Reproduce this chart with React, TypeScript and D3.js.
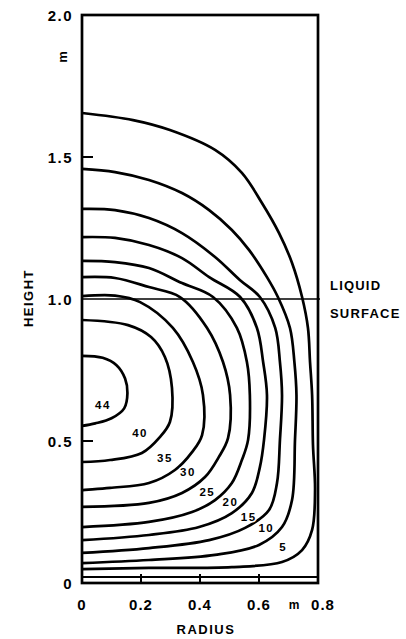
import React from 'react';
import * as d3 from 'd3';

// contour levels and their traced [radius, height] points (m)
const levels = [44, 40, 35, 30, 25, 20, 15, 10, 5];

const contours: [number, number][][] = [
  [[0, 0.80], [0.07, 0.793], [0.117, 0.767], [0.146, 0.72], [0.154, 0.669], [0.143, 0.615], [0.1, 0.58], [0.045, 0.562], [0, 0.553]],
  [[0, 0.926], [0.156, 0.908], [0.234, 0.866], [0.281, 0.796], [0.305, 0.687], [0.298, 0.567], [0.264, 0.514], [0.203, 0.458], [0.095, 0.433], [0, 0.426]],
  [[0, 1.01], [0.112, 1.012], [0.197, 0.989], [0.308, 0.898], [0.376, 0.778], [0.41, 0.662], [0.407, 0.521], [0.373, 0.461], [0.315, 0.398], [0.227, 0.352], [0.095, 0.335], [0, 0.327]],
  [[0, 1.077], [0.112, 1.074], [0.227, 1.042], [0.332, 1.007], [0.424, 0.898], [0.478, 0.778], [0.502, 0.662], [0.495, 0.51], [0.464, 0.444], [0.417, 0.373], [0.339, 0.317], [0.227, 0.282], [0, 0.268]],
  [[0, 1.134], [0.112, 1.130], [0.227, 1.109], [0.339, 1.056], [0.444, 1.007], [0.525, 0.898], [0.559, 0.778], [0.569, 0.662], [0.563, 0.504], [0.542, 0.433], [0.508, 0.352], [0.451, 0.292], [0.373, 0.25], [0.227, 0.215], [0, 0.197]],
  [[0, 1.218], [0.112, 1.215], [0.227, 1.190], [0.339, 1.144], [0.431, 1.077], [0.536, 1.007], [0.593, 0.898], [0.614, 0.778], [0.627, 0.662], [0.617, 0.504], [0.603, 0.408], [0.576, 0.317], [0.508, 0.246], [0.397, 0.197], [0.227, 0.169], [0, 0.151]],
  [[0, 1.317], [0.112, 1.313], [0.227, 1.285], [0.339, 1.232], [0.451, 1.148], [0.535, 1.067], [0.603, 1.007], [0.655, 0.898], [0.671, 0.778], [0.678, 0.662], [0.671, 0.504], [0.661, 0.352], [0.634, 0.257], [0.553, 0.194], [0.431, 0.151], [0.227, 0.123], [0, 0.106]],
  [[0, 1.458], [0.112, 1.447], [0.227, 1.419], [0.339, 1.373], [0.431, 1.313], [0.508, 1.243], [0.566, 1.173], [0.627, 1.077], [0.664, 1.007], [0.705, 0.898], [0.72, 0.778], [0.727, 0.662], [0.722, 0.504], [0.712, 0.292], [0.678, 0.197], [0.6, 0.134], [0.451, 0.099], [0.227, 0.081], [0, 0.070]],
  [[0, 1.655], [0.173, 1.630], [0.298, 1.595], [0.451, 1.525], [0.542, 1.444], [0.61, 1.338], [0.668, 1.232], [0.712, 1.127], [0.746, 1.007], [0.766, 0.898], [0.773, 0.778], [0.78, 0.662], [0.783, 0.486], [0.79, 0.327], [0.78, 0.187], [0.746, 0.116], [0.678, 0.074], [0.508, 0.056], [0.227, 0.053], [0, 0.049]],
];

// where each level number is written
const labelPos: [number, number][] = [
  [0.071, 0.627], [0.197, 0.528], [0.281, 0.44], [0.359, 0.391], [0.425, 0.322],
  [0.503, 0.285], [0.565, 0.232], [0.625, 0.194], [0.682, 0.128],
];

const xTicks = [0, 0.2, 0.4, 0.6, 0.8];
const xTickLabels = ['0', '0.2', '0.4', '0.6', '0.8'];
const yTicks = [0, 0.5, 1.0, 1.5, 2.0];
const yTickLabels = ['0', '0.5', '1.0', '1.5', '2.0'];
const surfaceHeight = 1.0;
const floorLine = 0.021;

const W = 406;
const H = 639;
const font = '"Liberation Sans", Arial, sans-serif';

export default function App() {
  const x = d3.scaleLinear().domain([0, 0.8]).range([82, 318]);
  const y = d3.scaleLinear().domain([0, 2]).range([583, 15]);

  const line = d3
    .line<[number, number]>()
    .x((d) => x(d[0]))
    .y((d) => y(d[1]))
    .curve(d3.curveCatmullRom.alpha(0.5));

  return (
    <svg width={W} height={H} style={{ position: 'absolute', left: 0, top: 0, background: '#fff' }}>
      {/* contours */}
      {contours.map((c, i) => (
        <path key={levels[i]} d={line(c) || ''} fill="none" stroke="#000" strokeWidth={2.7} strokeLinejoin="round" />
      ))}

      {/* liquid surface + floor line */}
      <line x1={x(0)} x2={x(0.8) + 2} y1={y(surfaceHeight)} y2={y(surfaceHeight)} stroke="#000" strokeWidth={1.6} />
      <line x1={x(0)} x2={x(0.8)} y1={y(floorLine)} y2={y(floorLine)} stroke="#000" strokeWidth={2} />

      {/* frame */}
      <rect x={x(0)} y={y(2)} width={x(0.8) - x(0)} height={y(0) - y(2)} fill="none" stroke="#000" strokeWidth={2.7} />

      {/* ticks */}
      {yTicks.filter((t) => t === 0.5 || t === 1.5).map((t) => (
        <line key={t} x1={x(0)} x2={x(0) + 11} y1={y(t)} y2={y(t)} stroke="#000" strokeWidth={2} />
      ))}
      {xTicks.filter((t) => t > 0 && t < 0.8).map((t) => (
        <line key={t} x1={x(t)} x2={x(t)} y1={y(0)} y2={y(0) - 9} stroke="#000" strokeWidth={2} />
      ))}

      {/* level labels */}
      {levels.map((lv, i) => (
        <text
          key={lv}
          x={x(labelPos[i][0])}
          y={y(labelPos[i][1])}
          textAnchor="middle"
          dominantBaseline="central"
          fontFamily={font}
          fontWeight="bold"
          fontSize={11.5}
          letterSpacing={1.5}
          fill="#000"
          stroke="#fff"
          strokeWidth={3}
          paintOrder="stroke"
        >
          {lv}
        </text>
      ))}

      {/* y tick labels */}
      {yTicks.map((t, i) => (
        <text key={t} x={73} y={y(t)} textAnchor="end" dominantBaseline="central" fontFamily={font} fontWeight="bold" fontSize={15} letterSpacing={1.5}>
          {yTickLabels[i]}
        </text>
      ))}
      {/* x tick labels */}
      {xTicks.map((t, i) => (
        <text key={t} x={x(t) + (i === 4 ? 5 : 0)} y={y(0) + 21} textAnchor="middle" dominantBaseline="central" fontFamily={font} fontWeight="bold" fontSize={15} letterSpacing={1}>
          {xTickLabels[i]}
        </text>
      ))}

      {/* units */}
      <text x={62} y={57} textAnchor="middle" dominantBaseline="central" fontFamily={font} fontWeight="900" fontSize={13} transform="rotate(-90 62 57)">m</text>
      <text x={294} y={y(0) + 22} textAnchor="middle" dominantBaseline="central" fontFamily={font} fontWeight="bold" fontSize={12}>m</text>

      {/* axis titles */}
      <text x={206} y={629} textAnchor="middle" dominantBaseline="central" fontFamily={font} fontWeight="bold" fontSize={13} letterSpacing={1.5}>RADIUS</text>
      <text x={28} y={298} textAnchor="middle" dominantBaseline="central" fontFamily={font} fontWeight="bold" fontSize={13} letterSpacing={1.5} transform="rotate(-90 28 298)">HEIGHT</text>

      {/* liquid surface note */}
      <text x={330} y={285} dominantBaseline="central" fontFamily={font} fontWeight="bold" fontSize={13} letterSpacing={1.2}>LIQUID</text>
      <text x={330} y={313} dominantBaseline="central" fontFamily={font} fontWeight="bold" fontSize={13} letterSpacing={1.2}>SURFACE</text>
    </svg>
  );
}
